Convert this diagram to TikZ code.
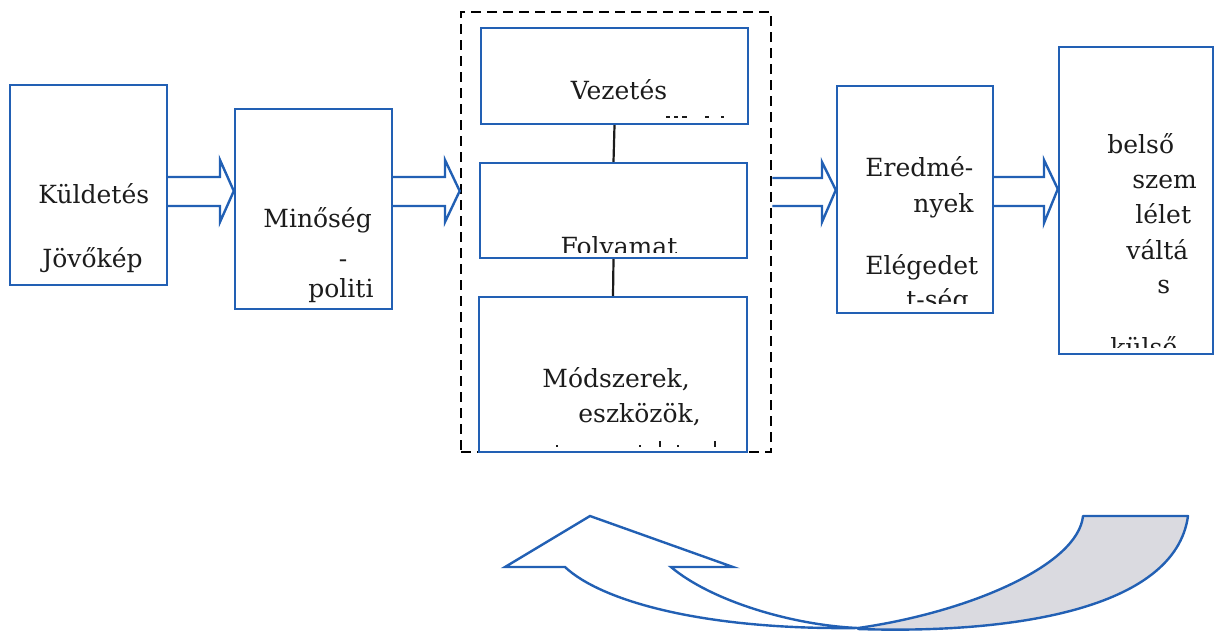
\documentclass[tikz,border=0pt]{standalone}
\usepackage{fontspec}
\setmainfont{DejaVu Serif}
\usetikzlibrary{fit,calc}
\definecolor{boxblue}{RGB}{34,96,180}
\definecolor{tailgray}{RGB}{218,218,224}
\definecolor{ink}{RGB}{28,28,28}
\begin{document}
\begin{tikzpicture}[x=0.5pt,y=-0.5pt,
  box/.style={draw=boxblue,line width=1.2pt,inner sep=0pt,fill=white},
  lbl/.style={text=ink,font=\fontsize{12.5}{15}\selectfont,inner sep=0pt,anchor=base west},
  barrow/.style={draw=boxblue,line width=1.2pt,line join=miter},
  link/.style={draw=ink,line width=1.1pt},
  frame/.style={draw=black,line width=1.3pt,dash pattern=on 5pt off 3pt,inner sep=0pt},
  frag/.style={draw=ink,line width=1pt}]
\useasboundingbox (0,0) rectangle (1215,634);

% dashed group frame
\node[frame, fit={(461,12) (771,452)}] (grp) {};

% boxes
\node[box, fit={(10,85) (167,285)}] (kul) {};
\node[box, fit={(235,109) (392,309)}] (min) {};
\node[box, fit={(481,28) (748,124)}] (vez) {};
\node[box, fit={(480,163) (747,258)}] (fol) {};
\node[box, fit={(479,297) (747,452)}] (mod) {};
\node[box, fit={(837,86) (993,313)}] (ere) {};
\node[box, fit={(1059,47) (1213,354)}] (bel) {};

% texts
\node[lbl] (tkul1) at (38,203) {Küldetés};
\node[lbl] (tkul2) at (42,267) {Jövőkép};
\node[lbl] (tmin1) at (263,227) {Minőség};
\node[lbl,anchor=base] (tmin2) at (343,267) {-};
\node[lbl] (tmin3) at (308,297) {politi};
\node[lbl,anchor=base] (tvez) at (619,99) {Vezetés};
\begin{scope}
  \clip (482,160) rectangle (746,252);
  \node[lbl,anchor=base] (tfol) at (619,255) {Folyamat};
\end{scope}
\node[lbl] (tmod1) at (542,387) {Módszerek,};
\node[lbl] (tmod2) at (578,422) {eszközök,};
\node[lbl] (tere1) at (865,176) {Eredmé-};
\node[lbl] (tere2) at (913,212) {nyek};
\node[lbl] (tere3) at (865,274) {Elégedet};
\begin{scope}
  \clip (838,280) rectangle (992,303);
  \node[lbl] (tere4) at (906,308) {t-ség};
\end{scope}
\node[lbl] (tbel1) at (1107,153) {belső};
\node[lbl] (tbel2) at (1132,188) {szem};
\node[lbl] (tbel3) at (1135,223) {lélet};
\node[lbl] (tbel4) at (1126,259) {váltá};
\node[lbl] (tbel5) at (1157,293) {s};
\begin{scope}
  \clip (1060,320) rectangle (1212,347);
  \node[lbl] (tbel6) at (1110,356) {külső};
\end{scope}

% clipped fragments of hidden lines
\draw[frag] (666,117) -- (670,117) (674,117) -- (678,117) (682,117) -- (687,117)
            (705,117) -- (709,117) (721,117) -- (724,117);
\draw[frag] (557,445) -- (557,447) (640,445) -- (640,447) (660,441) -- (660,447)
            (678,445) -- (678,447) (715,441) -- (715,447);

% connectors in group
\draw[link] (vez.south) -- (fol.north);
\draw[link] (fol.south) -- (mod.north);

% block arrows
\draw[barrow] (kul.east |- 0,177) -- (220,177) -- (220,160) -- (min.west |- 0,191)
  -- (220,222) -- (220,206) -- (kul.east |- 0,206);
\draw[barrow] (min.east |- 0,177) -- (445,177) -- (445,160) -- (grp.west |- 0,191)
  -- (445,222) -- (445,206) -- (min.east |- 0,206);
\draw[barrow] (grp.east |- 0,178) -- (822,178) -- (822,162) -- (ere.west |- 0,190)
  -- (822,222) -- (822,206) -- (grp.east |- 0,206);
\draw[barrow] (ere.east |- 0,177) -- (1044,177) -- (1044,160) -- (bel.west |- 0,189)
  -- (1044,223) -- (1044,206) -- (ere.east |- 0,206);

% curved feedback arrow
\filldraw[draw=boxblue, fill=tailgray, line width=1.2pt, line join=round]
  (858,628) .. controls (970,612) and (1078,565) .. (1083,516) -- (1188,516)
  .. controls (1175,610) and (1010,634) .. (858,629) -- cycle;
\filldraw[draw=boxblue, fill=white, line width=1.2pt, line join=miter]
  (505,567) -- (590,516) -- (733,567) -- (671,567)
  .. controls (710,600) and (790,625) .. (858,628)
  .. controls (700,630) and (600,600) .. (565,567) -- cycle;
\end{tikzpicture}
\end{document}
